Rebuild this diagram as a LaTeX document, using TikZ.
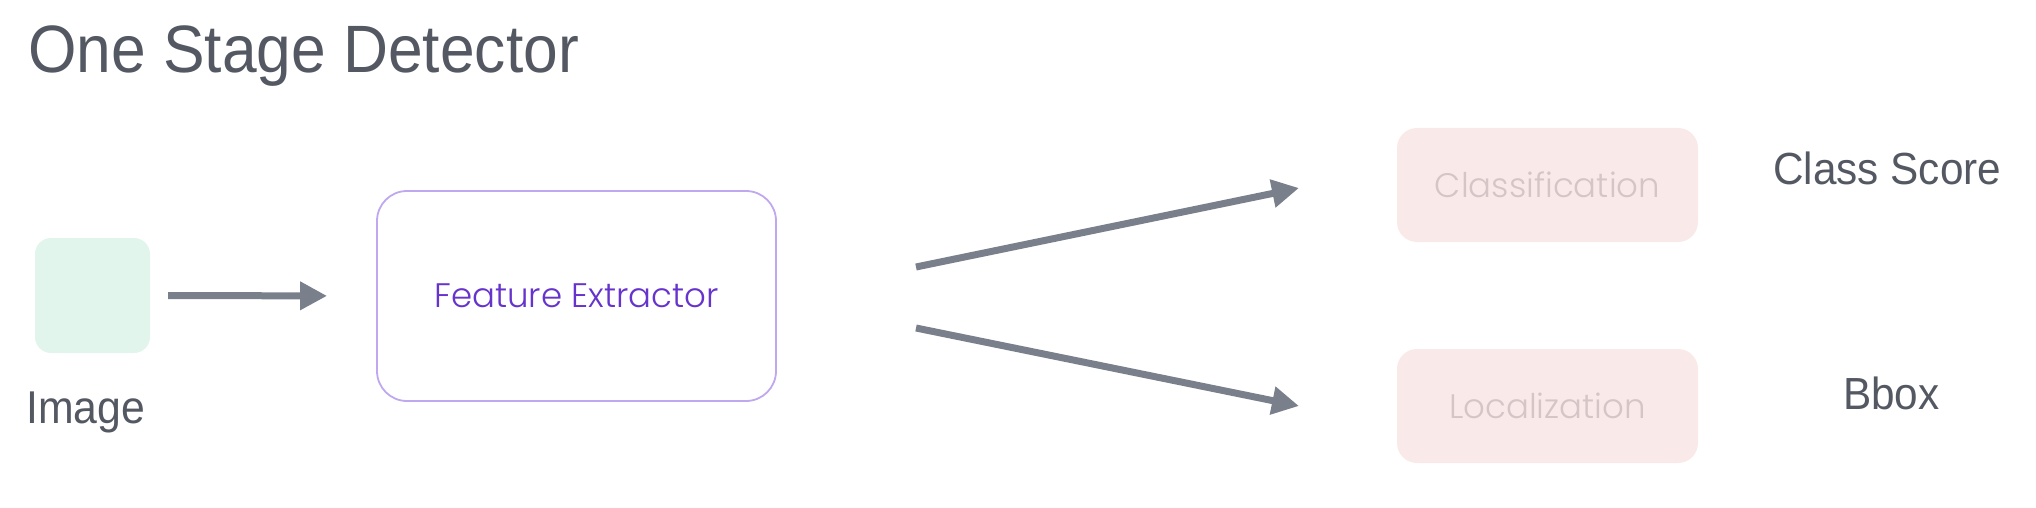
\documentclass[tikz,border=0pt]{standalone}
\usepackage{fontspec}
\setmainfont{Liberation Sans}
\newfontfamily\popl{Poppins Light}
\usepackage{graphicx}
\usetikzlibrary{arrows.meta}
\definecolor{titlegray}{HTML}{545862}
\definecolor{arrgray}{HTML}{7A808B}
\definecolor{imgfill}{HTML}{E2F5EC}
\definecolor{festroke}{HTML}{BFA8F0}
\definecolor{fetext}{HTML}{6633CC}
\definecolor{headfill}{HTML}{F9E9E8}
\definecolor{headtext}{HTML}{D5C5C6}
\tikzset{
  lbl/.style={anchor=base west, inner sep=0pt, text=titlegray},
  arr/.style={draw=arrgray, line width=7pt, -{Triangle[length=27pt,width=27pt]}},
  headbox/.style={fill=headfill, rounded corners=20pt, minimum width=301pt, minimum height=114pt, inner sep=0pt, text=headtext, font=\popl\fontsize{34}{40}\selectfont},
}
\begin{document}
\begin{tikzpicture}[x=1pt,y=-1pt]
\useasboundingbox (0,0) rectangle (2036,508);
\node[lbl] (title) at (28,73) {\fontsize{67}{80}\selectfont\scalebox{0.93}[1]{One Stage Detector}};
\node[fill=imgfill, rounded corners=16pt, minimum size=115pt, inner sep=0pt] (img) at (92.5,295.5) {};
\node[lbl] (imglbl) at (26,423) {\fontsize{46}{55}\selectfont\scalebox{0.93}[1]{Image}};
\node[draw=festroke, line width=1.8pt, rounded corners=30pt, minimum width=399pt, minimum height=210pt, inner sep=0pt, text=fetext, font=\popl\fontsize{34}{40}\selectfont] (fe) at (576.5,296) {Feature Extractor};
\node[headbox] (cls) at (1547.5,185) {Classification};
\node[headbox] (loc) at (1547.5,406) {Localization};
\node[lbl] (score) at (1773,184) {\fontsize{45}{54}\selectfont\scalebox{0.94}[1]{Class Score}};
\node[lbl] (bbox) at (1843,409) {\fontsize{45}{54}\selectfont\scalebox{0.94}[1]{Bbox}};
\coordinate (u1) at (916,267);
\coordinate (u2) at (1299,188);
\coordinate (d1) at (916,328);
\coordinate (d2) at (1299,406);
\draw[arr, shorten <=18pt, shorten >=49pt] (img.east) -- (fe.west);
\draw[arr] (u1) -- (u2);
\draw[arr] (d1) -- (d2);
\end{tikzpicture}
\end{document}
